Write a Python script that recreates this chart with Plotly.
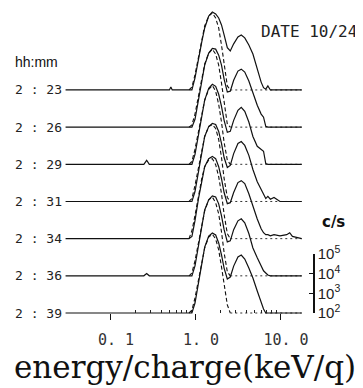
import numpy as np
import plotly.graph_objects as go

# ---- data (counts per second) ----
TIMES = ["2 : 23", "2 : 26", "2 : 29", "2 : 31", "2 : 34", "2 : 36", "2 : 39"]

ENERGY = [0.03, 0.25, 0.27, 0.29, 0.50, 0.52, 0.54, 0.85, 0.92, 1.0, 1.1, 1.2, 1.3,
          1.45, 1.6, 1.75, 1.9, 2.05, 2.2, 2.4, 2.6, 2.85, 3.2, 3.5, 3.85, 4.3,
          4.8, 5.4, 6.0, 6.4, 6.8, 7.2, 7.7, 8.5, 10.0, 12.0, 13.0, 14.0, 18.0]

C_0223 = [1e2, 1e2, 1e2, 1e2, 1e2, 1.4e2, 1e2, 1e2, 1e2, 4.1e2, 4.2e3, 2.7e4, 1.4e5,
          5.7e5, 9.1e5, 7.2e5, 4.5e5, 2.0e5, 6.2e4, 1.4e4, 9.5e3, 2.2e4, 4.9e4, 6.2e4,
          4.4e4, 1.9e4, 6.7e3, 1.0e3, 2.5e2, 1.3e2, 1.1e2, 1.6e2, 1e2, 1e2, 1e2, 1e2,
          1e2, 1e2, 1e2]
C_0226 = [1e2, 1e2, 1e2, 1e2, 1e2, 1e2, 1e2, 1e2, 1e2, 2.5e2, 2.6e3, 2.2e4, 1.4e5,
          5.7e5, 1.0e6, 9.1e5, 4.5e5, 1.4e5, 2.7e4, 6.0e3, 6.7e3, 2.4e4, 7.0e4, 8.8e4,
          6.2e4, 2.2e4, 5.3e3, 1.3e3, 4.6e2, 3.2e2, 1.1e2, 1e2, 1e2, 1e2, 1e2, 1e2,
          1e2, 1e2, 1e2]
C_0229 = [1e2, 1e2, 1.6e2, 1e2, 1e2, 1e2, 1e2, 1e2, 1e2, 3.2e2, 3.3e3, 2.7e4, 1.8e5,
          7.2e5, 1.15e6, 9.1e5, 3.6e5, 8.8e4, 1.7e4, 4.2e3, 4.7e3, 1.7e4, 5.5e4, 7.8e4,
          4.9e4, 1.4e4, 2.6e3, 8.2e2, 5.8e2, 4.6e2, 1.1e2, 1e2, 1e2, 1e2, 1e2, 1e2,
          1e2, 1e2, 1e2]
C_0231 = [1e2, 1e2, 1e2, 1e2, 1e2, 1e2, 1e2, 1e2, 1e2, 3.2e2, 3.3e3, 3.5e4, 2.0e5,
          6.4e5, 9.1e5, 8.1e5, 3.6e5, 8.8e4, 1.7e4, 5.3e3, 6.7e3, 2.7e4, 8.8e4, 1.1e5,
          7.0e4, 2.2e4, 4.2e3, 1.0e3, 4.1e2, 2.0e2, 1.4e2, 1.8e2, 1.3e2, 1.6e2, 1e2,
          1e2, 1e2, 1e2, 1e2]
C_0234 = [1e2, 1e2, 1e2, 1e2, 1e2, 1e2, 1e2, 1e2, 1.3e2, 8.2e2, 1.1e4, 8.8e4, 4.5e5,
          1.15e6, 1.5e6, 1.15e6, 4.5e5, 1.1e5, 2.2e4, 6.0e3, 6.7e3, 2.2e4, 7.0e4, 8.8e4,
          6.2e4, 1.9e4, 4.2e3, 1.0e3, 3.2e2, 2.0e2, 1.6e2, 1.6e2, 1.4e2, 1.6e2, 1.4e2,
          1.6e2, 2.0e2, 1.3e2, 1e2]
C_0236 = [1e2, 1e2, 1.3e2, 1e2, 1e2, 1e2, 1e2, 1e2, 1e2, 3.2e2, 3.3e3, 3.5e4, 2.2e5,
          7.2e5, 1.15e6, 1.0e6, 4.5e5, 1.1e5, 2.2e4, 5.3e3, 6.0e3, 2.2e4, 6.2e4, 7.8e4,
          4.9e4, 1.4e4, 2.6e3, 8.2e2, 3.2e2, 1.8e2, 1.4e2, 1.1e2, 1e2, 1e2, 1e2, 1e2,
          1e2, 1e2, 1e2]
C_0239 = [1e2, 1e2, 1e2, 1e2, 1e2, 1e2, 1e2, 1e2, 1e2, 3.2e2, 3.3e3, 3.5e4, 2.2e5,
          8.1e5, 1.15e6, 9.1e5, 3.6e5, 8.8e4, 1.9e4, 5.3e3, 6.7e3, 2.4e4, 7.0e4, 8.8e4,
          5.5e4, 1.9e4, 6.0e3, 1.3e3, 3.2e2, 1.6e2, 1e2, 1e2, 1e2, 1e2, 1e2, 1e2,
          1e2, 1e2, 1e2]

# fitted first-peak component (dashed curves)
FIT_ENERGY = [0.85, 0.92, 1.0, 1.1, 1.2, 1.3, 1.45, 1.6, 1.75, 1.9, 2.05, 2.2, 2.4, 2.6]
F_0223 = [1e2, 1.4e2, 5.8e2, 5.3e3, 3.5e4, 1.8e5, 5.7e5, 8.1e5, 4.5e5, 1.4e5, 1.9e4, 1.7e3, 1.6e2, 1e2]
F_0226 = [1e2, 1.3e2, 4.6e2, 4.2e3, 3.1e4, 1.6e5, 5.7e5, 9.1e5, 5.1e5, 1.4e5, 1.7e4, 1.5e3, 1.4e2, 1e2]
F_0229 = [1e2, 1.4e2, 5.8e2, 5.3e3, 3.5e4, 1.8e5, 6.4e5, 1.0e6, 5.1e5, 1.1e5, 1.4e4, 1.3e3, 1.6e2, 1e2]
F_0231 = [1e2, 1.4e2, 6.5e2, 5.3e3, 3.9e4, 2.0e5, 6.4e5, 8.1e5, 5.1e5, 1.4e5, 1.7e4, 1.5e3, 1.6e2, 1e2]
F_0234 = [1e2, 2.5e2, 1.5e3, 1.7e4, 1.1e5, 4.5e5, 1.0e6, 1.15e6, 5.7e5, 1.4e5, 1.9e4, 1.7e3, 1.8e2, 1e2]
F_0236 = [1e2, 1.4e2, 5.8e2, 5.3e3, 3.9e4, 2.0e5, 7.2e5, 1.0e6, 5.1e5, 1.4e5, 1.7e4, 1.5e3, 1.6e2, 1e2]
F_0239 = [1e2, 1.4e2, 5.8e2, 5.3e3, 3.9e4, 2.0e5, 7.2e5, 1.0e6, 5.7e5, 1.6e5, 2.2e4, 2.6e3, 2.6e2, 1e2]
BACKGROUND = 1e2
DOT_ENERGY = [2.6, 18.0]

X_TICKS = [0.1, 1.0, 10.0]
X_TICK_TEXT = ["0. 1", "1. 0", "10. 0"]
X_MINOR = [0.2, 0.3, 0.4, 0.5, 0.6, 0.7, 0.8, 0.9, 2, 3, 4, 5, 6, 7, 8, 9]
CS_TICKS = [1e2, 1e3, 1e4, 1e5]
CS_TEXT = ["10<sup>2</sup>", "10<sup>3</sup>", "10<sup>4</sup>", "10<sup>5</sup>"]

SPECTRA = [C_0223, C_0226, C_0229, C_0231, C_0234, C_0236, C_0239]
FITS = [F_0223, F_0226, F_0229, F_0231, F_0234, F_0236, F_0239]

# ---- layout (page has an 8px body margin; figure fills the rest) ----
PAGE_W, PAGE_H, BODY = 363, 388, 8
W, H = PAGE_W - BODY, PAGE_H - BODY


def px(x):  # page pixel -> paper x
    return (x - BODY) / W


def py(y):  # page pixel -> paper y
    return 1 - (y - BODY) / H


SPACING = 1.887            # decades between stacked baselines
DEC_PX = 19.7              # pixels per decade
BASE_PX = 313              # page pixel row of the bottom baseline (10^2)
X0_PX, DECX_PX = 195, 85   # page pixel of 1 keV, pixels per decade in x
N = len(TIMES)
Y_RANGE = [2 - (PAGE_H - BASE_PX) / DEC_PX, 2 + (BASE_PX - BODY) / DEC_PX]
X_RANGE = [(BODY - X0_PX) / DECX_PX, (PAGE_W - X0_PX) / DECX_PX]
AXIS_POS = py(BASE_PX)
DEC_FRAC = DEC_PX / H
BAR_X = px(314)

fig = go.Figure()
for k, (name, c, f) in enumerate(zip(TIMES, SPECTRA, FITS)):
    off = (N - 1 - k) * SPACING
    fig.add_trace(go.Scatter(x=FIT_ENERGY, y=np.log10(f) + off, mode="lines",
                             line=dict(color="#111", width=1.1, dash="4px,2.5px"),
                             showlegend=False, hoverinfo="skip"))
    fig.add_trace(go.Scatter(x=DOT_ENERGY, y=np.log10([BACKGROUND] * 2) + off, mode="lines",
                             line=dict(color="#333", width=1, dash="2px,3px"),
                             showlegend=False, hoverinfo="skip"))
    fig.add_trace(go.Scatter(x=ENERGY, y=np.log10(c) + off, mode="lines", name=name,
                             line=dict(color="#111", width=1.2),
                             showlegend=False, hoverinfo="skip"))
    fig.add_annotation(x=px(13), xref="paper", y=np.log10(BACKGROUND) + off, yref="y",
                       text=name, showarrow=False, xanchor="left", yanchor="middle",
                       font=dict(family="DejaVu Sans Mono", size=13, color="#222"))

# c/s scale axis (a free log axis)
fig.add_trace(go.Scatter(x=[None], y=[None], xaxis="x", yaxis="y2", showlegend=False,
                         hoverinfo="skip"))

fig.update_layout(
    width=W, height=H, margin=dict(l=0, r=0, t=0, b=0),
    paper_bgcolor="white", plot_bgcolor="rgba(0,0,0,0)", hovermode=False,
    xaxis=dict(type="log", range=X_RANGE, domain=[0, 1], anchor="free",
               position=AXIS_POS, showline=False, showgrid=False, zeroline=False,
               tickmode="array", tickvals=X_TICKS, ticktext=X_TICK_TEXT,
               ticks="outside", ticklen=6, tickwidth=1, tickcolor="#111",
               ticklabelstandoff=7, ticklabelshift=6,
               tickfont=dict(family="DejaVu Sans Mono", size=15, color="#333"),
               minor=dict(tickmode="array", tickvals=X_MINOR, ticks="inside",
                          ticklen=3, tickwidth=1, tickcolor="#222"),
               automargin=False),
    yaxis=dict(range=Y_RANGE, visible=False, domain=[0, 1], automargin=False),
    yaxis2=dict(type="log", range=[2, 5], domain=[AXIS_POS, AXIS_POS + 3 * DEC_FRAC],
                anchor="free", position=BAR_X, side="right",
                showline=True, linecolor="#111", linewidth=1.5, showgrid=False,
                zeroline=False, tickmode="array", tickvals=CS_TICKS, ticktext=CS_TEXT,
                ticks="inside", ticklen=4, tickcolor="#111", tickwidth=1.2,
                tickfont=dict(family="Liberation Sans", size=15, color="#222"),
                automargin=False),
)

# end caps of the c/s scale bar
for v in (2, 5):
    fig.add_shape(type="line", xref="paper", yref="y2", x0=BAR_X, x1=BAR_X + 4 / W,
                  y0=v, y1=v, line=dict(color="#111", width=1.2))

fig.add_annotation(x=px(259), xref="paper", y=py(32), yref="paper", text="DATE 10/24",
                   showarrow=False, xanchor="left", yanchor="middle",
                   font=dict(family="DejaVu Sans Mono", size=16, color="#222"))
fig.add_annotation(x=px(13), xref="paper", y=py(62), yref="paper", text="hh:mm",
                   showarrow=False, xanchor="left", yanchor="middle",
                   font=dict(family="Liberation Sans", size=14, color="#111"))
fig.add_annotation(x=px(320), xref="paper", y=py(222), yref="paper", text="<b>c/s</b>",
                   showarrow=False, xanchor="left", yanchor="middle",
                   font=dict(family="DejaVu Sans", size=15, color="#111"))
fig.add_annotation(x=px(185), xref="paper", y=py(367), yref="paper",
                   text="energy/charge(keV/q)", showarrow=False,
                   xanchor="center", yanchor="middle",
                   font=dict(family="DejaVu Serif", size=31, color="#111"))

fig.write_html("out.html")
